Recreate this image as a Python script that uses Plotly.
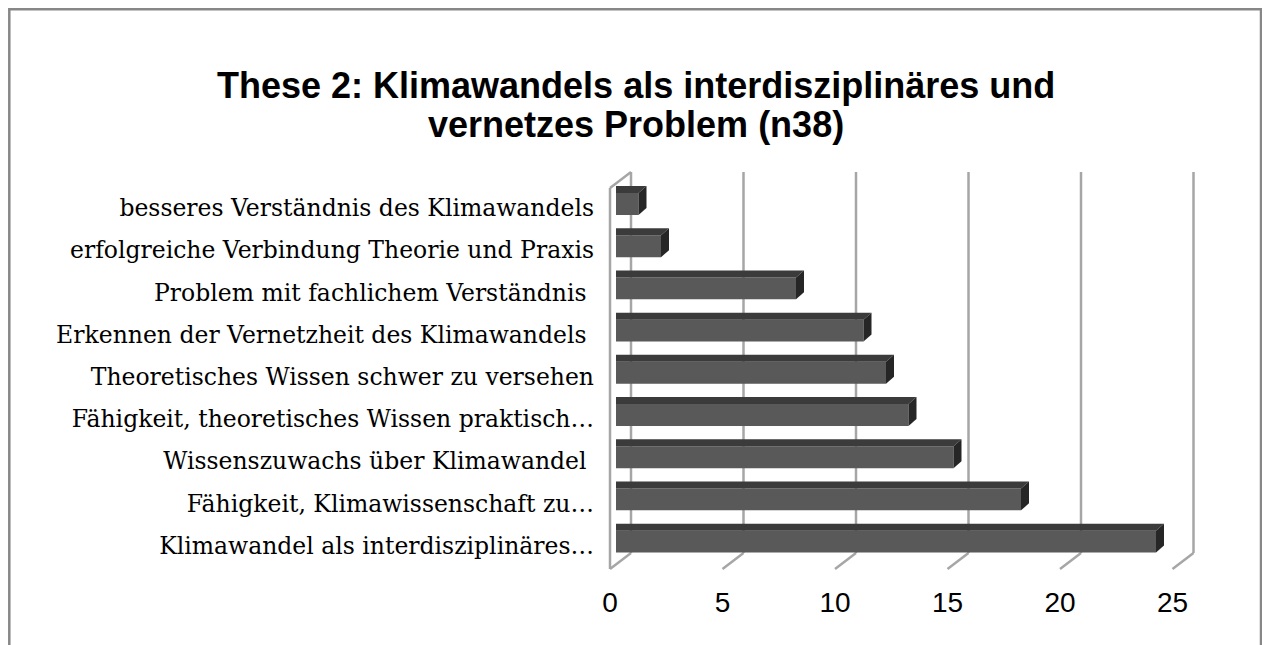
import plotly.graph_objects as go

# ---------------- data ----------------
categories = [
    "besseres Verständnis des Klimawandels",
    "erfolgreiche Verbindung Theorie und Praxis",
    "Problem mit fachlichem Verständnis\u00a0",
    "Erkennen der Vernetzheit des Klimawandels\u00a0",
    "Theoretisches Wissen schwer zu versehen",
    "Fähigkeit, theoretisches Wissen praktisch…",
    "Wissenszuwachs über Klimawandel\u00a0",
    "Fähigkeit, Klimawissenschaft zu…",
    "Klimawandel als interdisziplinäres…",
]
values = [1, 2, 8, 11, 12, 13, 15, 18, 24]
x_ticks = [0, 5, 10, 15, 20, 25]
title_lines = [
    "These 2: Klimawandels als interdisziplinäres und",
    "vernetzes Problem (n38)",
]

# ---------------- geometry (page pixels) ----------------
OFF = 8                      # browser body margin: figure starts at page (8, 8)
W, H = 1262, 637             # figure size so it fits inside the 1270x645 window
X0_PX, PX_PER_UNIT = 616.0, 22.5      # value 0 at bar front, px per unit
Y0_PX, PX_PER_CAT = 204.0, 42.2       # centre of first category, px per category
X_RANGE = [-0.4, 25.75]
Y_RANGE = [8.72, -0.81]
BAR_W = 0.52
BACK_TOP, BACK_FLOOR = 172, 553       # back wall extent (px)
BACK_DX, FRONT_DX, FRONT_DY = 15, -6, 16
BAR_DEPTH_X, BAR_DEPTH_Y = 8, 7

def x_px(v):
    return X0_PX + v * PX_PER_UNIT

def y_px(i):
    return Y0_PX + i * PX_PER_CAT

def px_x(p):
    return (p - X0_PX) / PX_PER_UNIT

def px_y(p):
    return (p - Y0_PX) / PX_PER_CAT

def paper_x(p):
    return (p - OFF) / W

def paper_y(p):
    return 1 - (p - OFF) / H

x_dom = [paper_x(x_px(X_RANGE[0])), paper_x(x_px(X_RANGE[1]))]
y_dom = [paper_y(y_px(Y_RANGE[0])), paper_y(y_px(Y_RANGE[1]))]

GRID_COLOR = "#a6a6a6"
FRONT_COLOR = "#595959"
TOP_COLOR = "#3b3b3b"
SIDE_COLOR = "#262626"

idx = list(range(len(categories)))

fig = go.Figure()
fig.add_trace(go.Bar(
    x=values, y=idx, orientation="h", width=BAR_W, base=0,
    marker=dict(color=FRONT_COLOR, line=dict(width=0)),
    hoverinfo="skip",
))

shapes = []
# back wall grid lines + floor diagonals
for t in x_ticks:
    bx = px_x(x_px(t) + BACK_DX)
    fx = px_x(x_px(t) + FRONT_DX)
    shapes.append(dict(type="line", xref="x", yref="y", layer="below",
                       x0=bx, x1=bx, y0=px_y(BACK_TOP), y1=px_y(BACK_FLOOR),
                       line=dict(color=GRID_COLOR, width=2.5)))
    shapes.append(dict(type="line", xref="x", yref="y", layer="below",
                       x0=bx, x1=fx, y0=px_y(BACK_FLOOR), y1=px_y(BACK_FLOOR + FRONT_DY),
                       line=dict(color=GRID_COLOR, width=2.5)))
# left side wall
lx_front = px_x(x_px(0) + FRONT_DX)
lx_back = px_x(x_px(0) + BACK_DX)
shapes.append(dict(type="line", xref="x", yref="y", layer="below",
                   x0=lx_front, x1=lx_front,
                   y0=px_y(BACK_TOP + FRONT_DY), y1=px_y(BACK_FLOOR + FRONT_DY),
                   line=dict(color=GRID_COLOR, width=2.5)))
shapes.append(dict(type="line", xref="x", yref="y", layer="below",
                   x0=lx_front, x1=lx_back,
                   y0=px_y(BACK_TOP + FRONT_DY), y1=px_y(BACK_TOP),
                   line=dict(color=GRID_COLOR, width=2.5)))

# 3D faces of the bars
dxu = BAR_DEPTH_X / PX_PER_UNIT
dyu = BAR_DEPTH_Y / PX_PER_CAT
for i, v in zip(idx, values):
    yt = i - BAR_W / 2
    yb = i + BAR_W / 2
    top = f"M 0,{yt} L {v},{yt} L {v + dxu},{yt - dyu} L 0,{yt - dyu} Z"
    side = (f"M {v},{yt} L {v + dxu},{yt - dyu} L {v + dxu},{yb - dyu} "
            f"L {v},{yb} Z")
    shapes.append(dict(type="path", xref="x", yref="y", path=top,
                       fillcolor=TOP_COLOR, line=dict(width=0)))
    shapes.append(dict(type="path", xref="x", yref="y", path=side,
                       fillcolor=SIDE_COLOR, line=dict(width=0)))

# outer chart border
shapes.append(dict(type="rect", xref="paper", yref="paper",
                   x0=paper_x(9.3), x1=paper_x(1261), y0=-0.05, y1=paper_y(9.3),
                   line=dict(color="#878787", width=2.5), fillcolor="rgba(0,0,0,0)"))

annotations = []
for k, line in enumerate(title_lines):
    annotations.append(dict(
        text=line, xref="paper", yref="paper",
        x=paper_x(635.5), y=paper_y(85 + 40 * k),
        xanchor="center", yanchor="middle", showarrow=False,
        font=dict(family="Liberation Sans, Arial, sans-serif", size=36,
                  color="#000000", weight="bold"),
    ))

fig.update_layout(
    width=W, height=H,
    margin=dict(l=0, r=0, t=0, b=0, autoexpand=False),
    paper_bgcolor="white", plot_bgcolor="white",
    showlegend=False, hovermode=False,
    shapes=shapes, annotations=annotations,
    xaxis=dict(domain=x_dom, range=X_RANGE, tickvals=x_ticks,
               ticktext=[str(t) for t in x_ticks],
               showgrid=False, zeroline=False, showline=False, ticks="",
               tickfont=dict(family="Liberation Sans, Arial, sans-serif", size=28,
                             color="#000000"),
               ticklabelshift=-6, ticklabelstandoff=11),
    yaxis=dict(domain=y_dom, range=Y_RANGE, tickvals=idx, ticktext=categories,
               showgrid=False, zeroline=False, showline=False, ticks="",
               tickfont=dict(family="DejaVu Serif, Liberation Serif, serif", size=23.5,
                             color="#000000"),
               ticklabelstandoff=12, ticklabelshift=-4),
)

fig.write_html("out.html")
